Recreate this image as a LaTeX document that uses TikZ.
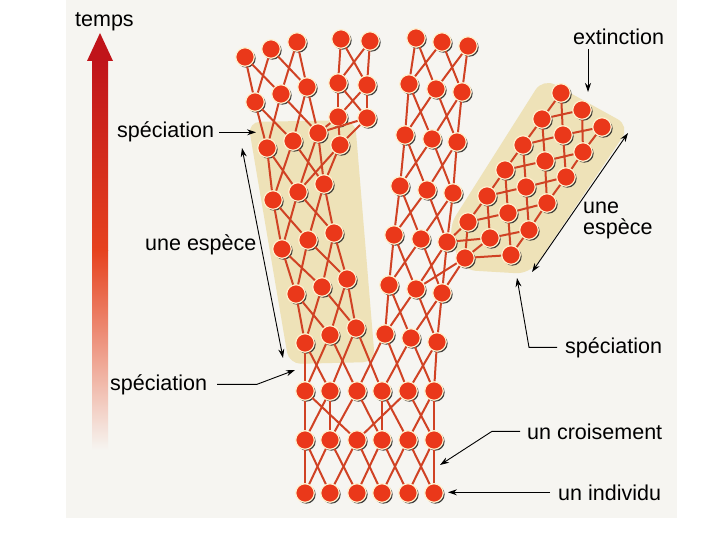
\documentclass[tikz,border=0pt]{standalone}
\usepackage{fontspec}
\setmainfont{Liberation Sans}
\usepackage{xcolor}
\usepackage{tikz}
\usetikzlibrary{shadows,arrows.meta}

\definecolor{scan}{RGB}{246,245,241}
\definecolor{band}{RGB}{238,226,184}
\definecolor{dotred}{RGB}{234,56,26}
\definecolor{rim}{RGB}{255,240,205}
\definecolor{linkred}{RGB}{208,66,36}
\definecolor{darkred}{RGB}{192,20,26}
\definecolor{midred}{RGB}{230,66,30}
\definecolor{pale}{RGB}{240,195,110}

\begin{document}
\begin{tikzpicture}[x=1pt, y=-1pt,
  person/.style={circle, fill=dotred, draw=rim, line width=1.2pt, minimum size=18.5pt, inner sep=0pt,
    drop shadow={shadow xshift=1.4pt, shadow yshift=-1.4pt, fill=black!85, opacity=.9}},
  link/.style={draw=linkred, line width=2pt},
  arr/.style={-{Stealth[length=9pt,width=6pt]}, line width=.9pt},
  darr/.style={{Stealth[length=9pt,width=6pt]}-{Stealth[length=9pt,width=6pt]}, line width=.9pt},
  lbl/.style={anchor=base west, inner sep=0pt, font=\fontsize{21.5}{20}\selectfont}]
\useasboundingbox (0,0) rectangle (720,540);
\fill[scan] (66,0) rectangle (677,518);
\fill[band, rounded corners=12pt] (248,122) -- (355,120) -- (375,362) -- (289,364) -- cycle;
\fill[band, rounded corners=14pt] (543,78) -- (630,126) -- (530,274) -- (462,270) -- (448,228) -- cycle;

\shade[top color=darkred, bottom color=midred] (92,60) rectangle (108,250);
\shade[top color=midred, middle color=pale, bottom color=scan] (92,250) rectangle (108,450);
\fill[darkred] (87,61) -- (100,33) -- (113,61) -- cycle;

\foreach \n/\x/\y in {
  t11/305/493, t12/330/493, t13/357/493, t14/382/493, t15/408/493, t16/434/493,
  t21/305/440, t22/330/440, t23/357/440, t24/382/440, t25/408/440, t26/434/440,
  t31/305/391, t32/330/391, t33/357/391, t34/382/391, t35/408/391, t36/434/391,
  l11/305/343, l12/330/335, l13/356/328, l21/296/294, l22/322/287, l23/347/279,
  l31/282/249, l32/308/240, l33/334/233, l41/273/200, l42/298/192, l43/324/184,
  l51/267/148, l52/293/141, l53/318/133, k11/255/102, k12/281/94, k13/307/87,
  k21/245/57, k22/271/49, k23/297/42,
  s0/340/145, s11/338/117, s12/367/118, s21/338/83, s22/367/85, s31/341/39, s32/370/41,
  m11/385/334, m12/411/338, m13/437/342, m21/389/285, m22/416/289, m23/442/293,
  m31/394/235, m32/421/239, m33/447/242, m41/400/186, m42/427/190, m43/453/193,
  m51/405/135, m52/432/139, m53/457/142, m61/409/84, m62/436/89, m63/462/92,
  m71/416/38, m72/442/42, m73/468/46,
  r0/465/258,
  r11/468/222, r12/490/238, r13/511/255, r21/487/196, r22/508/213, r23/529/230,
  r31/505/170, r32/526/187, r33/547/203, r41/523/145, r42/545/161, r43/566/177,
  r51/542/119, r52/563/135, r53/583/152, r61/561/93, r62/582/110, r63/602/127}
  \node[person] (\n) at (\x,\y) {};

\foreach \ch/\pa in {l2/l1, l3/l2, l4/l3, l5/l4, k1/l5, k2/k1, m2/m1, m3/m2, m4/m3,
  m5/m4, m6/m5, m7/m6, r2/r1, r3/r2, r4/r3, r5/r4, r6/r5}
  \draw[link] (\ch1) -- (\pa1) (\ch1) -- (\pa2) (\ch2) -- (\pa1) (\ch2) -- (\pa3)
    (\ch3) -- (\pa2) (\ch3) -- (\pa3);
\foreach \a/\b in {t21/t11, t21/t12, t22/t11, t22/t13, t23/t12, t23/t14, t24/t13, t24/t15,
  t25/t14, t25/t16, t26/t15, t26/t16, t31/t21, t31/t23, t32/t21, t32/t22, t33/t22, t33/t24,
  t34/t24, t34/t25, t35/t23, t35/t26, t36/t25, t36/t26,
  l11/t31, l11/t32, l12/t31, l12/t33, l13/t32, l13/t34, m11/t33, m11/t35, m12/t34, m12/t36,
  m13/t35, m13/t36, s0/l42, s0/l43, s11/s0, s11/l53, s12/s0, s12/l53, s21/s11, s21/s12,
  s22/s11, s22/s12, s31/s21, s31/s22, s32/s21, s32/s22,
  r0/m22, r0/m23, r11/m33, r11/r0, r12/m33, r12/r0, r13/r0}
  \draw[link] (\a) -- (\b);

\node[lbl] (temps) at (75,27) {temps};
\node[lbl] (spec1) at (117,138) {spéciation};
\node[lbl] (esp1) at (145,250) {une espèce};
\node[lbl] (spec2) at (110,390) {spéciation};
\node[lbl] (ext) at (573,45) {extinction};
\node[lbl] (une) at (583,214) {une};
\node[lbl] (espece) at (583,234) {espèce};
\node[lbl] (spec3) at (565,353) {spéciation};
\node[lbl] (crois) at (527,439) {un croisement};
\node[lbl] (indiv) at (558,500) {un individu};

\coordinate (tip1) at (256,133);
\coordinate (spanA) at (242,148);
\coordinate (spanB) at (283,358);
\coordinate (bend2) at (257,385);
\coordinate (tip2) at (295,370);
\coordinate (extB) at (588,92);
\coordinate (spanC) at (628,133);
\coordinate (spanD) at (532,272);
\coordinate (bend3) at (529,346);
\coordinate (tip3) at (517,278);
\coordinate (bend4) at (492,433);
\coordinate (tip4) at (440,465);
\coordinate (tip5) at (448,495);

\draw[arr] ([xshift=5pt]spec1.east) -- (spec1.east -| tip1);
\draw[darr] (spanA) -- (spanB);
\draw[arr] ([xshift=10pt]spec2.east) -- (spec2.east -| bend2) -- (tip2);
\draw[arr] ([yshift=-4pt]ext.south -| extB) -- (extB);
\draw[darr] (spanC) -- (spanD);
\draw[arr] ([xshift=-8pt]spec3.west) -- (spec3.west -| bend3) -- (tip3);
\draw[arr] ([xshift=-7pt]crois.west) -- (crois.west -| bend4) -- (tip4);
\draw[arr] ([xshift=-8pt]indiv.west) -- (indiv.west -| tip5);
\end{tikzpicture}
\end{document}
